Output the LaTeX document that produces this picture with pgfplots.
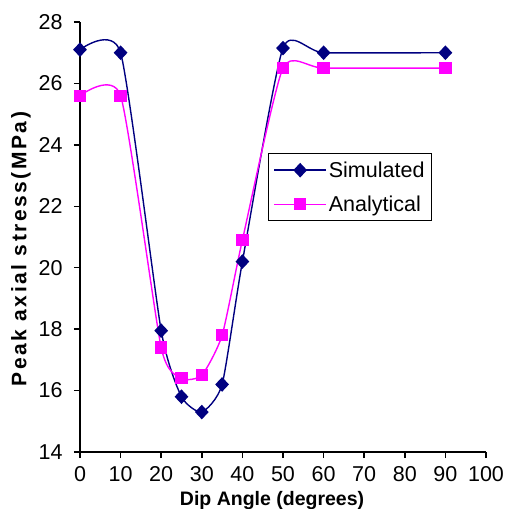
\documentclass[border=0pt]{standalone}
\usepackage{fontspec}
\setmainfont{Liberation Sans}
\newfontfamily\ylabfont[LetterSpace=12]{Liberation Sans}
\usepackage{pgfplots}
\pgfplotsset{compat=1.18}
\definecolor{simblue}{RGB}{0,0,128}
\definecolor{anamag}{RGB}{255,0,255}
\begin{document}
\begin{tikzpicture}
\path[use as bounding box] (-80pt,-57pt) rectangle (428pt,452pt);
\begin{axis}[scale only axis,width=406pt,height=430pt,
  xmin=0,xmax=100,ymin=14,ymax=28,
  xtick={0,10,...,100},ytick={14,16,...,28},
  axis x line*=bottom,axis y line*=left,
  axis line style={line width=2pt},
  tick align=outside,major tick length=6pt,
  tick style={line width=1.5pt,black},
  /pgf/number format/assume math mode=true,
  tick label style={font=\fontsize{21.5}{24}\selectfont},
  xticklabel style={yshift=-5pt},
  yticklabel style={xshift=-8pt},
  xlabel={Dip Angle (degrees)},
  ylabel={Peak axial stress(MPa)},
  x label style={font=\fontsize{19.5}{22}\selectfont\bfseries,
    at={(axis description cs:0.473,0)},anchor=center,yshift=-48pt},
  y label style={font=\fontsize{21}{24}\ylabfont\bfseries,
    at={(axis description cs:-0.1453,0.472)},anchor=center},
  legend style={at={(0.463,0.695)},anchor=north west,draw=black,line width=1pt,
    font=\fontsize{21.5}{24}\selectfont,row sep=13pt,inner xsep=5pt,inner ysep=6pt},
  legend cell align=left,
  legend image code/.code={\draw[mark repeat=2,mark phase=2] plot coordinates {(0pt,0pt) (26pt,0pt) (52pt,0pt)};},
  ]
\addplot[simblue,line width=1.4pt,smooth,tension=0.35,mark=diamond*,mark size=6.3pt,mark options={solid,fill=simblue,xscale=1.25}]
  coordinates {(0,27.1) (10,27.0) (20,17.95) (25,15.8) (30,15.3) (35,16.2) (40,20.2) (50,27.15) (60,27.0) (90,27.0)};
\addlegendentry{Simulated}
\addplot[anamag,line width=1.4pt,smooth,tension=0.35,mark=square*,mark size=5.5pt,mark options={solid,fill=anamag}]
  coordinates {(0,25.6) (10,25.6) (20,17.4) (25,16.4) (30,16.5) (35,17.8) (40,20.9) (50,26.5) (60,26.5) (90,26.5)};
\addlegendentry{Analytical}
\end{axis}
\end{tikzpicture}
\end{document}
